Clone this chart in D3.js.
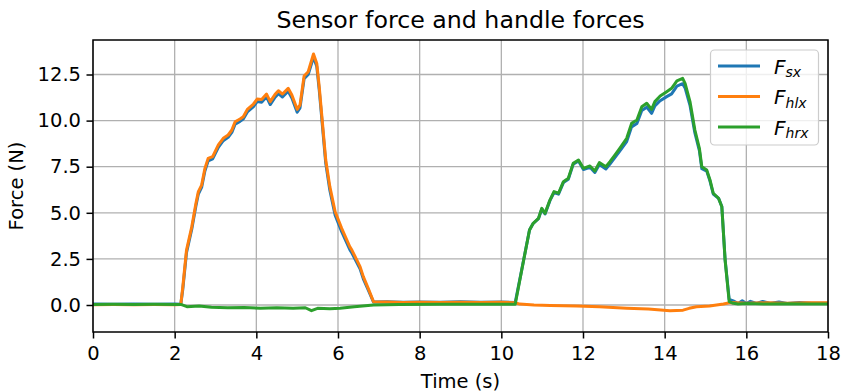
<!DOCTYPE html>
<html>
<head>
<meta charset="utf-8">
<script src="https://cdn.jsdelivr.net/npm/d3@7"></script>
<style>
  html, body { margin: 0; padding: 0; background: #fff; }
  svg { display: block; font-family: "DejaVu Sans", sans-serif; }
</style>
</head>
<body>
<svg id="chart" width="842" height="392"></svg>
<script>
// Sensor force (blue), left handle force (orange), right handle force (green)
const sensorTime = [0, 0.5, 1.0, 1.5, 2.0, 2.15, 2.2, 2.29, 2.42, 2.52, 2.58, 2.66, 2.74, 2.82, 2.93, 3.07, 3.19, 3.31, 3.4, 3.48, 3.6, 3.68, 3.78, 3.93, 4.02, 4.13, 4.25, 4.34, 4.46, 4.54, 4.64, 4.78, 4.87, 5.0, 5.07, 5.17, 5.27, 5.4, 5.48, 5.54, 5.62, 5.7, 5.8, 5.93, 6.09, 6.29, 6.34, 6.54, 6.62, 6.74, 6.87, 7.2, 7.6, 8.0, 8.5, 9.0, 9.5, 10.0, 10.34, 10.5, 10.69, 10.78, 10.91, 10.99, 11.07, 11.19, 11.29, 11.4, 11.52, 11.64, 11.76, 11.89, 12.01, 12.17, 12.29, 12.4, 12.56, 12.66, 12.78, 12.9, 13.07, 13.19, 13.32, 13.44, 13.56, 13.68, 13.76, 13.89, 14.05, 14.17, 14.3, 14.44, 14.5, 14.62, 14.74, 14.85, 14.91, 15.03, 15.11, 15.19, 15.32, 15.4, 15.48, 15.58, 15.68, 15.8, 15.9, 16.0, 16.1, 16.25, 16.4, 16.6, 16.8, 17.0, 17.3, 17.6, 18.0];
const sensorForce = [0.05, 0.04, 0.06, 0.04, 0.05, 0.04, 0.87, 2.84, 4.12, 5.37, 6.02, 6.38, 7.27, 7.82, 7.93, 8.55, 8.91, 9.09, 9.36, 9.81, 9.96, 10.08, 10.47, 10.76, 11.03, 11.0, 11.29, 10.87, 11.27, 11.46, 11.28, 11.59, 11.23, 10.45, 10.69, 12.27, 12.5, 13.45, 12.94, 11.67, 9.68, 7.68, 6.22, 4.87, 3.98, 3.0, 2.82, 1.96, 1.42, 0.82, 0.16, 0.17, 0.15, 0.16, 0.15, 0.17, 0.15, 0.16, 0.14, 1.92, 4.07, 4.42, 4.68, 5.21, 4.94, 5.66, 6.1, 6.01, 6.64, 6.82, 7.63, 7.81, 7.35, 7.47, 7.19, 7.62, 7.38, 7.64, 7.99, 8.35, 8.86, 9.66, 9.84, 10.55, 10.73, 10.39, 10.8, 11.08, 11.3, 11.45, 11.87, 12.0, 11.77, 10.83, 9.33, 8.37, 7.39, 7.26, 6.72, 6.02, 5.78, 5.34, 2.46, 0.3, 0.22, 0.08, 0.23, 0.08, 0.2, 0.08, 0.19, 0.09, 0.16, 0.08, 0.14, 0.09, 0.1];

const leftTime = [0, 0.5, 1.0, 1.5, 2.0, 2.15, 2.2, 2.29, 2.42, 2.52, 2.58, 2.66, 2.74, 2.82, 2.93, 3.07, 3.19, 3.31, 3.4, 3.48, 3.6, 3.68, 3.78, 3.93, 4.02, 4.13, 4.25, 4.34, 4.46, 4.54, 4.64, 4.78, 4.87, 5.0, 5.07, 5.17, 5.27, 5.4, 5.48, 5.54, 5.62, 5.7, 5.8, 5.93, 6.09, 6.29, 6.34, 6.54, 6.62, 6.74, 6.87, 7.2, 7.6, 8.0, 8.5, 9.0, 9.5, 10.0, 10.34, 10.45, 10.8, 11.2, 11.85, 12.4, 13.07, 13.6, 14.13, 14.45, 14.6, 14.78, 15.1, 15.44, 15.6, 16.0, 16.5, 17.0, 17.5, 18.0];
const leftForce = [0.02, 0.03, 0.02, 0.03, 0.02, 0.03, 0.99, 2.98, 4.25, 5.5, 6.15, 6.5, 7.4, 7.95, 8.05, 8.68, 9.04, 9.22, 9.49, 9.94, 10.09, 10.21, 10.61, 10.9, 11.17, 11.15, 11.44, 11.03, 11.43, 11.62, 11.44, 11.75, 11.39, 10.61, 10.85, 12.42, 12.65, 13.61, 13.1, 11.84, 9.85, 7.86, 6.42, 5.06, 4.16, 3.16, 2.98, 2.08, 1.54, 0.9, 0.18, 0.16, 0.13, 0.15, 0.14, 0.15, 0.14, 0.15, 0.12, 0.05, 0.0, -0.03, -0.05, -0.1, -0.18, -0.22, -0.31, -0.28, -0.18, -0.09, -0.05, 0.05, 0.13, 0.1, 0.12, 0.1, 0.12, 0.12];

const rightTime = [0, 0.5, 1.0, 1.5, 2.0, 2.15, 2.3, 2.6, 2.9, 3.3, 3.7, 4.1, 4.5, 4.9, 5.2, 5.35, 5.5, 5.8, 6.05, 6.4, 6.87, 7.5, 8.5, 9.5, 10.34, 10.5, 10.69, 10.78, 10.91, 10.99, 11.07, 11.19, 11.29, 11.4, 11.52, 11.64, 11.76, 11.89, 12.01, 12.17, 12.29, 12.4, 12.56, 12.66, 12.78, 12.9, 13.07, 13.19, 13.32, 13.44, 13.56, 13.68, 13.76, 13.89, 14.05, 14.17, 14.3, 14.44, 14.5, 14.62, 14.74, 14.85, 14.91, 15.03, 15.11, 15.19, 15.32, 15.4, 15.48, 15.58, 15.68, 15.8, 16.0, 16.5, 17.0, 17.5, 18.0];
const rightForce = [0.03, 0.04, 0.03, 0.04, 0.03, 0.03, -0.09, -0.05, -0.12, -0.15, -0.13, -0.18, -0.15, -0.18, -0.15, -0.31, -0.18, -0.2, -0.18, -0.1, 0.0, 0.03, 0.04, 0.04, 0.04, 1.9, 4.07, 4.43, 4.7, 5.24, 4.97, 5.69, 6.15, 6.06, 6.69, 6.87, 7.68, 7.86, 7.41, 7.54, 7.27, 7.72, 7.5, 7.77, 8.13, 8.5, 9.04, 9.85, 10.03, 10.75, 10.94, 10.61, 11.03, 11.33, 11.57, 11.75, 12.16, 12.29, 12.02, 11.03, 9.49, 8.5, 7.5, 7.32, 6.78, 6.06, 5.79, 5.33, 2.44, 0.18, 0.09, 0.05, 0.08, 0.05, 0.07, 0.05, 0.06];

const xTicks = [0, 2, 4, 6, 8, 10, 12, 14, 16, 18];
const yTicks = [0, 2.5, 5, 7.5, 10, 12.5];
const seriesNames = ["sx", "hlx", "hrx"];
const seriesColors = ["#1f77b4", "#ff7f0e", "#2ca02c"];

const svg = d3.select("#chart");
const plot = { left: 93, right: 828, top: 40, bottom: 332 };

const x = d3.scaleLinear().domain([0, 18]).range([plot.left, plot.right]);
const y = d3.scaleLinear().domain([-1.464, 14.371]).range([plot.bottom, plot.top]);

// Grid
const grid = svg.append("g").attr("stroke", "#b0b0b0").attr("stroke-width", 1.3);
grid.selectAll("line.gx").data(xTicks).join("line")
  .attr("x1", d => x(d)).attr("x2", d => x(d))
  .attr("y1", plot.top).attr("y2", plot.bottom);
grid.selectAll("line.gy").data(yTicks).join("line")
  .attr("x1", plot.left).attr("x2", plot.right)
  .attr("y1", d => y(d)).attr("y2", d => y(d));

// Lines
svg.append("defs").append("clipPath").attr("id", "clip")
  .append("rect").attr("x", plot.left).attr("y", plot.top)
  .attr("width", plot.right - plot.left).attr("height", plot.bottom - plot.top);

const series = [
  { t: sensorTime, v: sensorForce },
  { t: leftTime, v: leftForce },
  { t: rightTime, v: rightForce }
];
const line = d3.line().x(d => x(d[0])).y(d => y(d[1]));
const lines = svg.append("g").attr("clip-path", "url(#clip)");
series.forEach((s, i) => {
  lines.append("path")
    .datum(s.t.map((t, k) => [t, s.v[k]]))
    .attr("d", line)
    .attr("fill", "none")
    .attr("stroke", seriesColors[i])
    .attr("stroke-width", 3)
    .attr("stroke-linejoin", "round");
});

// Axes
const xAxis = d3.axisBottom(x).tickValues(xTicks).tickSize(6.5).tickPadding(8).tickFormat(d3.format("d"));
const yAxis = d3.axisLeft(y).tickValues(yTicks).tickSize(6.5).tickPadding(5.5).tickFormat(d3.format(".1f"));

const gx = svg.append("g").attr("transform", `translate(0,${plot.bottom})`).call(xAxis);
const gy = svg.append("g").attr("transform", `translate(${plot.left},0)`).call(yAxis);
[gx, gy].forEach(g => {
  g.select(".domain").remove();
  g.selectAll(".tick line").attr("stroke", "#000").attr("stroke-width", 1.5);
  g.selectAll(".tick text").attr("fill", "#000")
    .style("font-family", "'DejaVu Sans', sans-serif").style("font-size", "19.5px");
});

// Frame
svg.append("rect")
  .attr("x", plot.left).attr("y", plot.top)
  .attr("width", plot.right - plot.left).attr("height", plot.bottom - plot.top)
  .attr("fill", "none").attr("stroke", "#000").attr("stroke-width", 1.5);

// Titles
svg.append("text").attr("x", (plot.left + plot.right) / 2).attr("y", 28)
  .attr("text-anchor", "middle").style("font-size", "23.7px").text("Sensor force and handle forces");
svg.append("text").attr("x", (plot.left + plot.right) / 2).attr("y", 387.5)
  .attr("text-anchor", "middle").style("font-size", "19.5px").text("Time (s)");
svg.append("text").attr("transform", `translate(22.5,${(plot.top + plot.bottom) / 2}) rotate(-90)`)
  .attr("text-anchor", "middle").style("font-size", "19.5px").text("Force (N)");

// Legend
const legend = svg.append("g");
legend.append("rect").attr("x", 710.5).attr("y", 50).attr("width", 108).attr("height", 95)
  .attr("rx", 4).attr("fill", "#fff").attr("fill-opacity", 0.8)
  .attr("stroke", "#cccccc").attr("stroke-width", 1.2);
seriesNames.forEach((name, i) => {
  const cy = 66 + i * 30.5;
  legend.append("line").attr("x1", 718).attr("x2", 760).attr("y1", cy).attr("y2", cy)
    .attr("stroke", seriesColors[i]).attr("stroke-width", 3);
  const txt = legend.append("text").attr("x", 774).attr("y", cy + 7.5)
    .style("font-size", "20px").style("font-style", "italic");
  txt.append("tspan").text("F");
  txt.append("tspan").attr("dy", 3.5).style("font-size", "14px").text(name);
});
</script>
</body>
</html>
